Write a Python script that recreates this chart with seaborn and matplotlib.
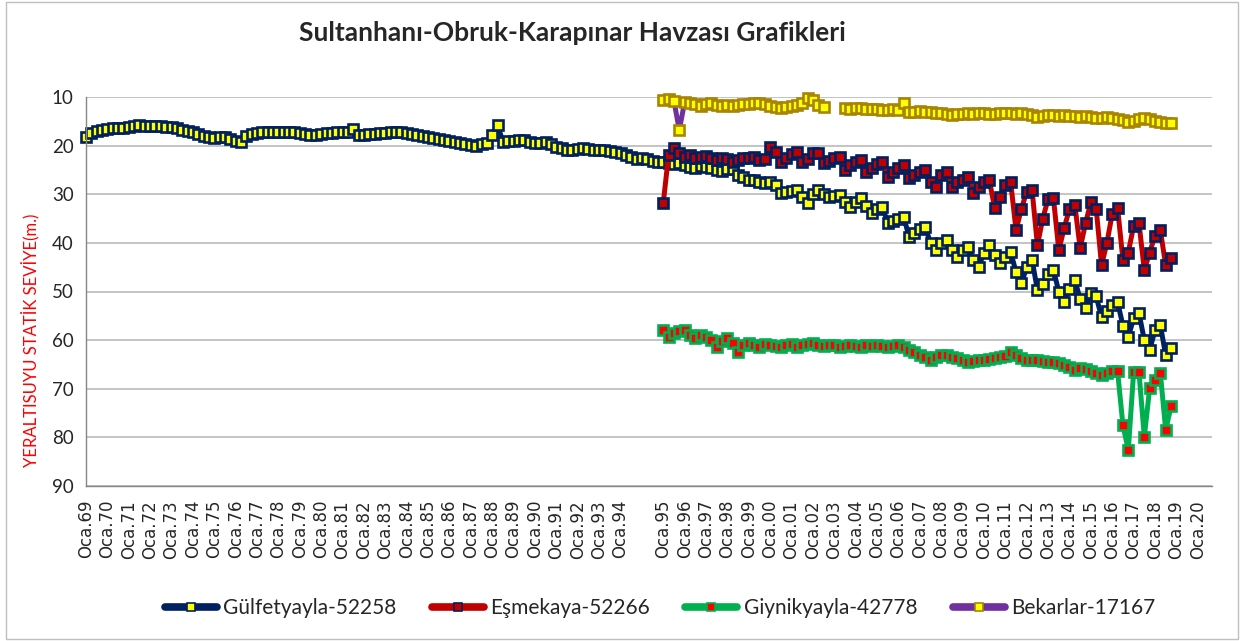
import numpy as np
import pandas as pd
import matplotlib
matplotlib.use("Agg")
import matplotlib.pyplot as plt
from matplotlib.lines import Line2D
from matplotlib.patches import Rectangle
import seaborn as sns

# quarterly readings (Oca, Nis, Tem, Eki) of static level, metres below ground
gulfetyayla_start = 1969
gulfetyayla = [
    18.2, 17.5, 17.0, 16.7,  16.5, 16.4, 16.3, 16.4,  16.2, 15.9, 15.8, 15.9,  # 69-71
    15.9, 16.0, 16.0, 16.1,  16.2, 16.4, 16.7, 17.0,  17.3, 17.7, 18.0, 18.3,  # 72-74
    18.4, 18.2, 18.3, 18.6,  19.0, 19.3, 18.0, 17.6,  17.4, 17.2, 17.1, 17.1,  # 75-77
    17.2, 17.2, 17.3, 17.3,  17.4, 17.6, 17.8, 17.9,  17.7, 17.5, 17.4, 17.3,  # 78-80
    17.2, 17.2, 16.5, 17.8,  17.8, 17.7, 17.6, 17.5,  17.4, 17.3, 17.2, 17.3,  # 81-83
    17.5, 17.7, 17.8, 18.0,  18.2, 18.4, 18.6, 18.8,  19.0, 19.2, 19.4, 19.6,  # 84-86
    19.8, 20.0, 19.6, 19.4,  17.8, 15.8, 19.2, 19.1,  19.0, 18.9, 18.9, 19.3,  # 87-89
    19.5, 19.4, 19.3, 19.6,  20.2, 20.5, 20.8, 20.9,  20.7, 20.5, 20.6, 20.8,  # 90-92
    20.9, 21.0, 21.2, 21.3,  21.6, 22.0, 22.3, 22.7,  22.6, 22.7, 23.2, 23.4,  # 93-95
    23.3, 23.6, 23.8, 23.6,  24.0, 24.4, 24.5, 24.2,  24.4, 24.6, 25.0, 25.2,  # 96-98
    24.8, 24.8, 26.0, 26.5,  27.0, 27.1, 27.5, 27.7,  27.4, 28.0, 29.8, 29.6,  # 99-01
    29.3, 29.1, 30.5, 31.8,  30.0, 29.1, 30.0, 30.6,  30.4, 30.2, 31.5, 32.6,  # 02-04
    31.5, 30.8, 32.5, 33.9,  33.0, 32.6, 35.9, 35.5,  35.0, 34.7, 38.8, 38.0,  # 05-07
    37.2, 36.7, 40.0, 41.5,  40.0, 39.4, 41.5, 42.9,  41.5, 40.9, 43.5, 45.0,  # 08-10
    42.0, 40.5, 42.5, 44.2,  43.0, 41.9, 46.0, 48.3,  45.0, 43.5, 49.7, 48.5,  # 11-13
    46.5, 45.6, 50.0, 52.2,  49.5, 47.7, 51.5, 53.4,  50.3, 51.0, 55.3, 54.0,  # 14-16
    52.8, 52.2, 57.0, 59.4,  55.5, 54.4, 60.0, 62.0,  58.0, 56.9, 63.1, 61.6,  # 17-19
]

esmekaya_start = 1996
esmekaya = [
    31.8, 21.9, 20.5, 21.5,  22.3, 22.0, 22.6, 22.4,  22.2, 22.6, 22.9, 22.5,  # 96-98
    22.8, 23.4, 22.9, 22.6,  22.6, 22.4, 23.0, 22.8,  20.3, 21.3, 23.4, 22.5,  # 99-01
    21.8, 21.3, 23.4, 22.8,  21.5, 21.5, 23.6, 23.2,  22.5, 22.3, 25.0, 24.0,  # 02-04
    23.3, 23.0, 25.4, 24.5,  23.8, 23.4, 26.5, 25.5,  24.5, 24.0, 26.7, 26.0,  # 05-07
    25.5, 25.0, 27.5, 28.5,  26.0, 25.4, 28.5, 27.5,  27.0, 26.5, 29.8, 28.5,  # 08-10
    27.5, 27.1, 32.8, 30.5,  28.0, 27.5, 37.4, 33.0,  29.5, 29.1, 40.5, 35.0,  # 11-13
    31.0, 30.8, 41.5, 37.0,  33.0, 32.2, 41.1, 36.0,  31.6, 33.0, 44.6, 40.0,  # 14-16
    34.0, 32.8, 43.5, 42.0,  36.5, 35.9, 45.6, 42.0,  38.5, 37.4, 44.6, 43.1,  # 17-19
]

giynikyayla_start = 1996
giynikyayla = [
    58.0, 59.4, 58.5, 58.2,  58.0, 59.0, 59.6, 59.0,  59.4, 60.0, 61.4, 60.2,  # 96-98
    59.6, 60.5, 62.5, 61.0,  60.6, 61.0, 61.4, 60.8,  61.0, 61.2, 61.4, 61.0,  # 99-01
    60.8, 61.4, 61.0, 60.8,  60.6, 61.0, 61.2, 61.0,  61.0, 61.4, 61.2, 61.0,  # 02-04
    61.2, 61.4, 61.0, 61.2,  61.0, 61.2, 61.4, 61.2,  61.0, 61.5, 62.0, 62.5,  # 05-07
    63.0, 63.5, 64.0, 63.5,  63.0, 63.1, 63.5, 63.6,  64.0, 64.5, 64.3, 64.1,  # 08-10
    64.0, 63.8, 63.6, 63.4,  63.2, 62.5, 63.1, 63.6,  64.0, 64.1, 64.0, 64.3,  # 11-13
    64.5, 64.5, 64.7, 65.2,  65.6, 66.2, 65.8, 66.0,  66.4, 66.8, 67.2, 66.8,  # 14-16
    66.4, 66.4, 77.5, 82.6,  66.6, 66.6, 79.9, 69.9,  68.2, 66.8, 78.5, 73.6,  # 17-19
]

bekarlar_start = 1996
bekarlar = [
    10.6, 10.5, 10.8, 16.8,  11.0, 11.2, 11.5, 11.8,  11.5, 11.2, 11.6, 11.8,  # 96-98
    11.7, 11.8, 11.6, 11.5,  11.4, 11.2, 11.3, 11.5,  11.8, 12.0, 12.3, 12.0,  # 99-01
    11.8, 11.6, 11.2, 10.2,  10.6, 11.6, 12.0, np.nan,  np.nan, np.nan, 12.3, 12.4,  # 02-04
    12.2, 12.3, 12.5, 12.4,  12.4, 12.6, 12.7, 12.5,  12.6, 11.2, 13.0, 13.1,  # 05-07
    12.9, 13.0, 13.1, 13.2,  13.3, 13.5, 13.7, 13.5,  13.4, 13.3, 13.5, 13.3,  # 08-10
    13.2, 13.4, 13.5, 13.3,  13.2, 13.3, 13.4, 13.3,  13.5, 13.8, 14.1, 13.9,  # 11-13
    13.8, 13.7, 13.9, 13.7,  13.9, 14.0, 14.2, 14.0,  14.1, 14.3, 14.4, 14.2,  # 14-16
    14.4, 14.6, 14.8, 15.1,  14.9, 14.5, 14.3, 14.6,  14.9, 15.1, 15.3, 15.3,  # 17-19
]

series_names = ["Gülfetyayla-52258", "Eşmekaya-52266", "Giynikyayla-42778", "Bekarlar-17167"]
tick_years = list(range(1969, 2022))
tick_labels = ["Oca.%02d" % (y % 100) for y in range(1969, 1995)] + [""] + \
              ["Oca.%02d" % (y % 100) for y in range(1995, 2021)]


def make_frame(values, start):
    df = pd.DataFrame({"seviye": values})
    df["yil"] = start + np.arange(len(df)) / 4.0
    df["parca"] = df["seviye"].isna().cumsum()
    return df.dropna()


# colours / marker styles for each well
styles = [
    dict(color="#002060", mfc="#FFFF00", mec="#002060"),
    dict(color="#C00000", mfc="#C00000", mec="#002060"),
    dict(color="#00B050", mfc="#FF0000", mec="#00B050"),
    dict(color="#7030A0", mfc="#FFFF00", mec="#A88400"),
]
data = [(gulfetyayla, gulfetyayla_start), (esmekaya, esmekaya_start),
        (giynikyayla, giynikyayla_start), (bekarlar, bekarlar_start)]

sns.set_style("white")
plt.rcParams["font.family"] = ["Lato", "DejaVu Sans"]

fig = plt.figure(figsize=(12.45, 6.41), dpi=100)
ax = fig.add_axes([86 / 1245, 1 - 486 / 641, (1212 - 86) / 1245, (486 - 97) / 641])

for (vals, start), st in zip(data, styles):
    df = make_frame(vals, start)
    sns.lineplot(data=df, x="yil", y="seviye", units="parca", estimator=None,
                 color=st["color"], linewidth=3.6, marker="s", markersize=7.6,
                 markerfacecolor=st["mfc"], markeredgecolor=st["mec"],
                 markeredgewidth=1.9, ax=ax, legend=False, clip_on=False)

ax.set_xlim(1969, 1969 + 1126 / 21.38)
ax.set_ylim(90, 10)
ax.set_yticks(range(10, 91, 10))
ax.set_xticks(tick_years)
ax.set_xticklabels(tick_labels, rotation=90, family="DejaVu Sans", fontsize=12)
ax.tick_params(axis="y", labelsize=13.5, length=5, color="#868686", direction="out", pad=4)
ax.tick_params(axis="x", length=5, color="#868686", direction="out", pad=5)
ax.yaxis.grid(True, color="#BFBFBF", linewidth=1.3)
ax.set_axisbelow(True)
for side in ["top", "right"]:
    ax.spines[side].set_visible(False)
for side in ["left", "bottom"]:
    ax.spines[side].set_color("#868686")
    ax.spines[side].set_linewidth(1.0)
ax.set_xlabel("")
ax.set_ylabel("")

fig.text(572 / 1245, 1 - 33 / 641, "Sultanhanı-Obruk-Karapınar Havzası Grafikleri",
         ha="center", va="center", fontsize=19, fontweight="bold")
fig.text(30 / 1245, 1 - 340 / 641, "YERALTISUYU STATİK SEVİYE(m.)", rotation=90,
         ha="center", va="center", fontsize=12, color="#FF0000")

handles = [Line2D([], [], color=st["color"], linewidth=5.5, marker="s", markersize=6,
                  markerfacecolor=st["mfc"], markeredgecolor=st["mec"], markeredgewidth=1.2)
           for st in styles]
fig.legend(handles, series_names, loc="center", bbox_to_anchor=(660 / 1245, 1 - 608 / 641),
           ncol=4, frameon=False, fontsize=15, handlelength=2.5, handletextpad=0.3,
           columnspacing=1.7)

fig.patches.append(Rectangle((6 / 1245, 2 / 641), 1232 / 1245, 637 / 641,
                             transform=fig.transFigure, fill=False,
                             edgecolor="#BFBFBF", linewidth=1.0))

fig.savefig("out.png", dpi=100, facecolor="white")
